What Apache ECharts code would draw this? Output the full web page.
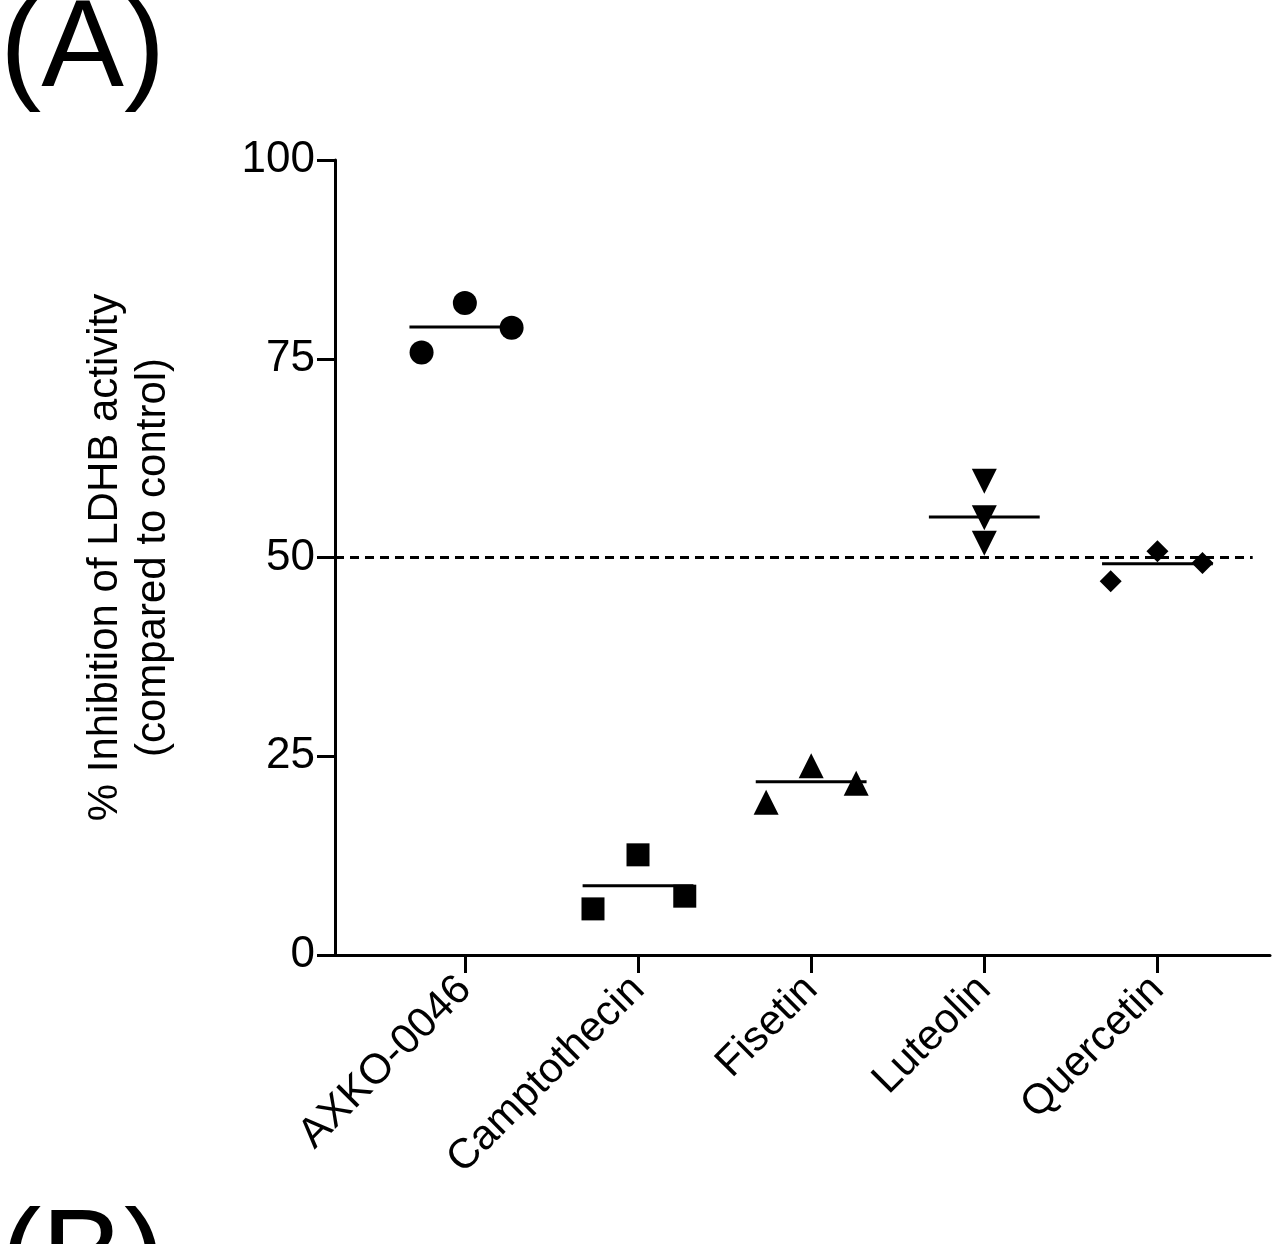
<!DOCTYPE html>
<html><head><meta charset="utf-8">
<script src="https://cdn.jsdelivr.net/npm/echarts@6/dist/echarts.min.js"></script>
<style>html,body{margin:0;padding:0;background:#fff}#c{width:1274px;height:1244px}</style>
</head><body><div id="c"></div>
<script>
const categories = ['AXKO-0046','Camptothecin','Fisetin','Luteolin','Quercetin'];
const replicateValues = [
  [75.8, 82.0, 78.9],
  [5.8, 12.6, 7.4],
  [19.2, 23.8, 21.6],
  [59.6, 55.0, 51.8],
  [47.0, 50.8, 49.3]
];
const replicateOffsets = [
  [-0.25, 0, 0.27],
  [-0.26, 0, 0.27],
  [-0.26, 0, 0.26],
  [0, 0, 0],
  [-0.27, 0, 0.26]
];
const means = [79.0, 8.7, 21.8, 55.1, 49.2];
const yTicks = [0, 25, 50, 75, 100];
const threshold = 50;

const symbols = ['circle','rect','triangle','path://M0,0 L10,0 L5,9 Z','diamond'];
const sizes = [24, 23, 25, 25, 22];
const series = [];
categories.forEach((c, i) => {
  series.push({
    type: 'scatter', symbol: symbols[i], symbolSize: sizes[i],
    itemStyle: {color: '#000', opacity: 1}, z: 3,
    data: replicateValues[i].map((v, k) => [i + replicateOffsets[i][k], v])
  });
  series.push({
    type: 'line', symbol: 'none', lineStyle: {color: '#000', width: 3}, z: 4,
    data: [[i - 0.32, means[i]], [i + 0.32, means[i]]]
  });
});
series.push({
  type: 'line', symbol: 'none', lineStyle: {color: '#000', width: 3, type: [9, 6]},
  data: [[-0.75, threshold], [4.55, threshold]]
});

const chart = echarts.init(document.getElementById('c'));
chart.setOption({
  animation: false,
  grid: {left: 335, right: 4, top: 160, bottom: 289},
  xAxis: {
    type: 'value', min: -0.75, max: 4.65,
    splitLine: {show: false},
    axisLine: {onZero: false, lineStyle: {color: '#000', width: 3}},
    axisTick: {show: true, customValues: [0,1,2,3,4], length: 18, lineStyle: {color: '#000', width: 3}},
    axisLabel: {
      customValues: [0,1,2,3,4], rotate: 45, margin: 28,
      formatter: v => categories[Math.round(v)],
      fontFamily: 'Liberation Sans, Arial', fontSize: 42, color: '#000'
    }
  },
  yAxis: {
    type: 'value', min: 0, max: 100, interval: 25,
    splitLine: {show: false},
    axisLine: {show: true, onZero: false, lineStyle: {color: '#000', width: 3}},
    axisTick: {show: true, length: 18, lineStyle: {color: '#000', width: 3}},
    axisLabel: {fontFamily: 'Liberation Sans, Arial', fontSize: 44, color: '#000', margin: 20,
      formatter: v => yTicks.includes(v) ? String(v) : ''},
    name: '% Inhibition of LDHB activity\n(compared to control)',
    nameLocation: 'middle', nameGap: 158, nameRotate: 90,
    nameTextStyle: {fontFamily: 'Liberation Sans, Arial', fontSize: 42, color: '#000', lineHeight: 48}
  },
  series: series,
  graphic: [
    {type: 'text', left: 0, top: -10, style: {text: '(A)', font: '124px Liberation Sans, Arial', fill: '#000'}},
    {type: 'text', left: 0, top: 1200, style: {text: '(B)', font: '124px Liberation Sans, Arial', fill: '#000'}}
  ]
});
</script></body></html>
